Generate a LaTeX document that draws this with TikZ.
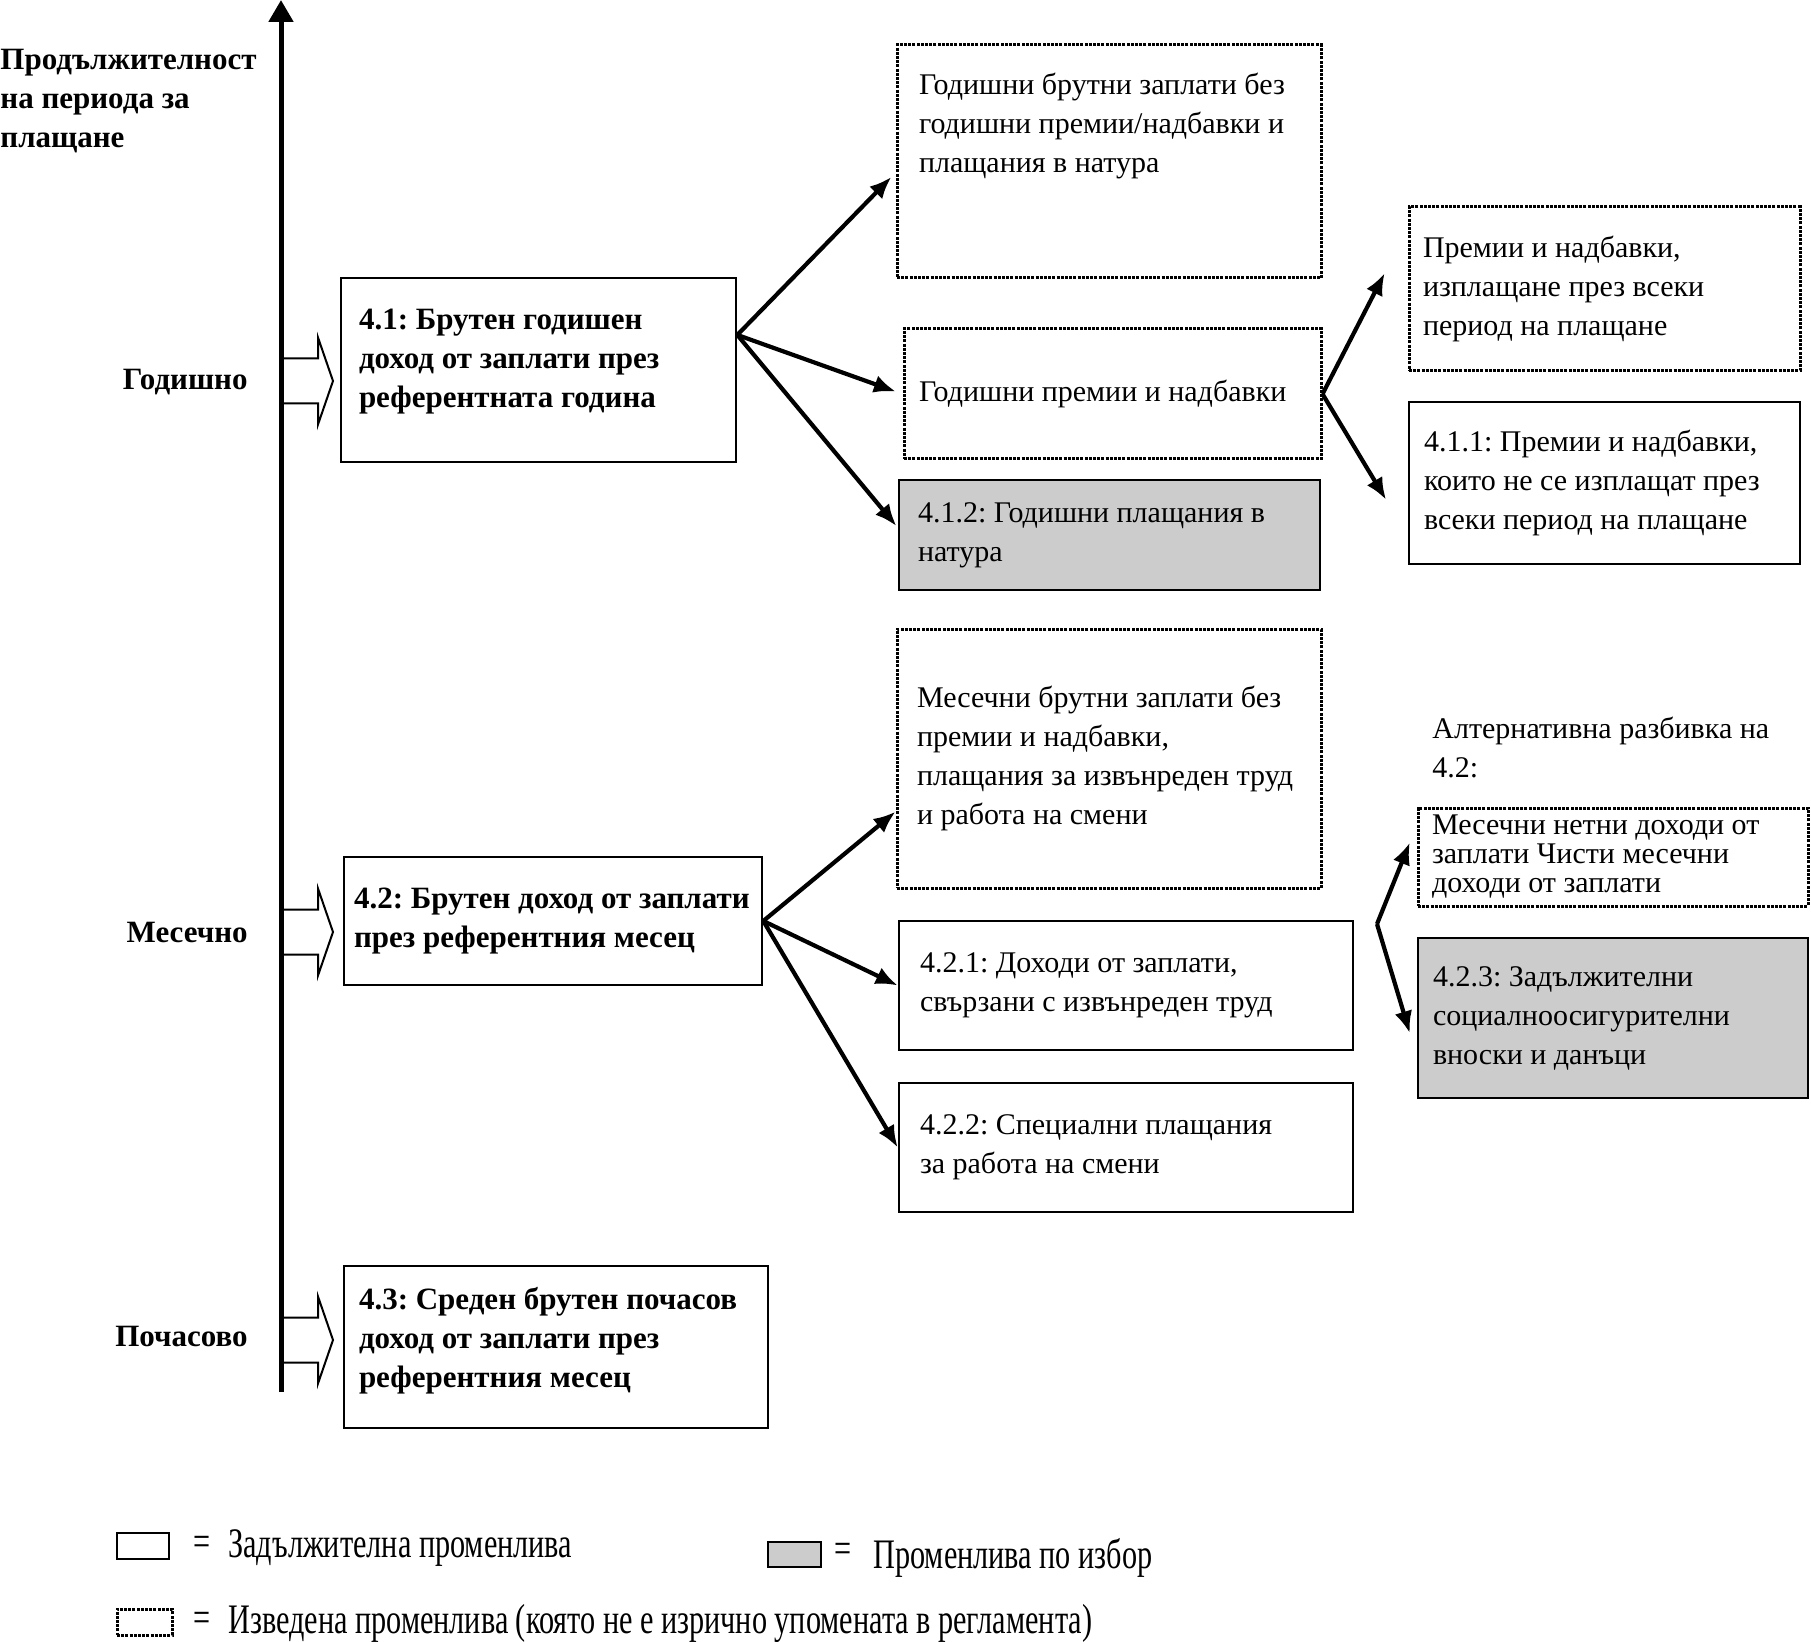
\documentclass[tikz,border=0pt]{standalone}
\usepackage{fontspec}
\setmainfont{Liberation Serif}
\newfontfamily\narrowfont[FakeStretch=0.72]{Liberation Serif}
\frenchspacing
\usetikzlibrary{arrows.meta}
\tikzset{
  varbox/.style  = {draw, line width=1.3pt, align=flush left, inner ysep=0pt,
                    font=\fontsize{15}{19.5}\selectfont},
  reqbox/.style  = {varbox},
  optbox/.style  = {varbox, fill=black!20},
  derbox/.style  = {varbox, line width=1.5pt, dash pattern=on 1.5pt off 0.6pt},
  mainbox/.style = {reqbox, font=\bfseries\fontsize{15.5}{19.5}\selectfont},
  perlbl/.style  = {font=\bfseries\fontsize{15.5}{19.5}\selectfont, inner sep=0pt},
  axlbl/.style   = {perlbl, align=left},
  note/.style    = {font=\fontsize{15}{19.5}\selectfont, align=left, inner sep=0pt},
  keytxt/.style  = {font=\narrowfont\fontsize{21}{25}\selectfont, inner sep=0pt},
  flow/.style    = {-{Latex[length=11pt, width=9pt]}, line width=2.1pt},
  axis/.style    = {-{Triangle[length=11pt, width=12pt]}, line width=2.5pt},
  period arrow/.pic = {
    \draw[line width=1pt, fill=white] (0,-22.5) -- (37,-22.5) -- (37,-43.5)
      -- (52,0) -- (37,43.5) -- (37,22.5) -- (0,22.5);
  },
}

\begin{document}
\begin{tikzpicture}[x=0.5pt, y=-0.5pt]
    \useasboundingbox (0,0) rectangle (1811,1642);

    % period axis
    \node[axlbl, anchor=west] (axtitle) at (0,101.5) {Продължителност\\на периода за\\плащане};
    \node[perlbl, anchor=east] (yearly)  at (248,382)  {Годишно};
    \node[perlbl, anchor=east] (monthly) at (248,932)  {Месечно};
    \node[perlbl, anchor=east] (hourly)  at (248,1336) {Почасово};
    \pic at (281,381)  {period arrow};
    \pic at (281,932)  {period arrow};
    \pic at (281,1340) {period arrow};
    \coordinate (axbot) at (281,1392);
    \coordinate (axtop) at (281,0);
    \draw[axis] (axbot) -- (axtop);

    \node[mainbox, inner xsep=9pt, text width=179.5pt, minimum height=92pt] (b41) at (538.5,370)
      {4.1: Брутен годишен\\доход от заплати през\\референтната година\\[-8pt]\mbox{}};
    \node[mainbox, inner xsep=5pt, text width=199pt, minimum height=64pt] (b42) at (553,921)
      {4.2: Брутен доход от заплати\\през референтния месец};
    \node[mainbox, inner xsep=7.5pt, text width=197pt, minimum height=81pt] (b43) at (556,1347)
      {4.3: Среден брутен почасов\\доход от заплати през\\референтния месец\\[-10pt]\mbox{}};

    % yearly breakdown
    \node[derbox, inner xsep=11pt, text width=190pt, minimum height=116.5pt] (gA) at (1109,161.5)
      {Годишни брутни заплати без\\годишни премии/надбавки и\\плащания в натура\\[19.5pt]\mbox{}};
    \node[derbox, inner xsep=7.5pt, text width=193.5pt, minimum height=65pt] (gB) at (1112.5,394)
      {Годишни премии и надбавки};
    \node[optbox, inner xsep=9.5pt, text width=191.5pt, minimum height=55pt] (gC) at (1109.5,535)
      {4.1.2: Годишни плащания в\\натура};
    \node[derbox, inner xsep=7pt, text width=181.5pt, minimum height=82pt] (gD) at (1604.5,289)
      {Премии и надбавки,\\изплащане през всеки\\период на плащане};
    \node[reqbox, inner xsep=7.5pt, text width=180.5pt, minimum height=81pt] (gE) at (1604.5,483)
      {4.1.1: Премии и надбавки,\\които не се изплащат през\\всеки период на плащане};

    % monthly breakdown
    \node[derbox, inner xsep=10pt, text width=192pt, minimum height=129.5pt] (gF) at (1109,758.5)
      {Месечни брутни заплати без\\премии и надбавки,\\плащания за извънреден труд\\и работа на смени};
    \node[reqbox, inner xsep=10.5pt, text width=206pt, minimum height=64.5pt] (gG) at (1126,985.5)
      {4.2.1: Доходи от заплати,\\свързани с извънреден труд};
    \node[reqbox, inner xsep=10.5pt, text width=206pt, minimum height=64.5pt] (gH) at (1126,1147.5)
      {4.2.2: Специални плащания\\за работа на смени};

    \node[note, anchor=west] (altlbl) at (1432,747.5) {Алтернативна разбивка на\\4.2:};
    \node[derbox, inner xsep=7pt, text width=181pt, minimum height=49pt,
          font=\fontsize{15}{14.5}\selectfont] (gI) at (1613,857)
      {Месечни нетни доходи от\\заплати Чисти месечни\\доходи от заплати};
    \node[optbox, inner xsep=7.5pt, text width=180pt, minimum height=80pt] (gJ) at (1613,1018)
      {4.2.3: Задължителни\\социалноосигурителни\\вноски и данъци};
    \coordinate (altsplit) at (1377,924);

    \draw[flow, shorten >=3pt] (b41.10) -- (gA.183);
    \draw[flow, shorten >=3.5pt] (b41.10) -- (gB.west);
    \draw[flow, shorten >=1pt] (b41.10) -- (gC.178);
    \draw[flow, shorten >=25pt] (gB.east) -- (gD.163);
    \draw[flow, shorten >=21pt] (gB.east) -- (gE.195);
    \draw[flow] (b42.east) -- (gF.194);
    \draw[flow] (b42.east) -- (gG.west);
    \draw[flow] (b42.east) -- (gH.west);
    \draw[flow, shorten >=9pt] (altsplit) -- (gI.171);
    \draw[flow, shorten >=12pt] (altsplit) -- (gJ.191);

    % legend
    \node[reqbox, inner sep=0pt, minimum width=26pt, minimum height=13pt] (keyreq) at (143,1546) {};
    \node[keytxt] (keyreqeq) at (202,1546) {=};
    \node[keytxt, anchor=west] (keyreqtxt) at (228,1548) {Задължителна променлива};
    \node[optbox, inner sep=0pt, minimum width=26.5pt, minimum height=12.5pt] (keyopt) at (794.5,1554.5) {};
    \node[keytxt] (keyopteq) at (843,1553) {=};
    \node[keytxt, anchor=west] (keyopttxt) at (873,1558) {Променлива по избор};
    \node[derbox, inner sep=0pt, minimum width=27.5pt, minimum height=13pt] (keyder) at (144.5,1622) {};
    \node[keytxt] (keydereq) at (202,1622) {=};
    \node[keytxt, anchor=west] (keydertxt) at (228,1623)
      {Изведена променлива (която не е изрично упомената в регламента)};
\end{tikzpicture}
\end{document}
